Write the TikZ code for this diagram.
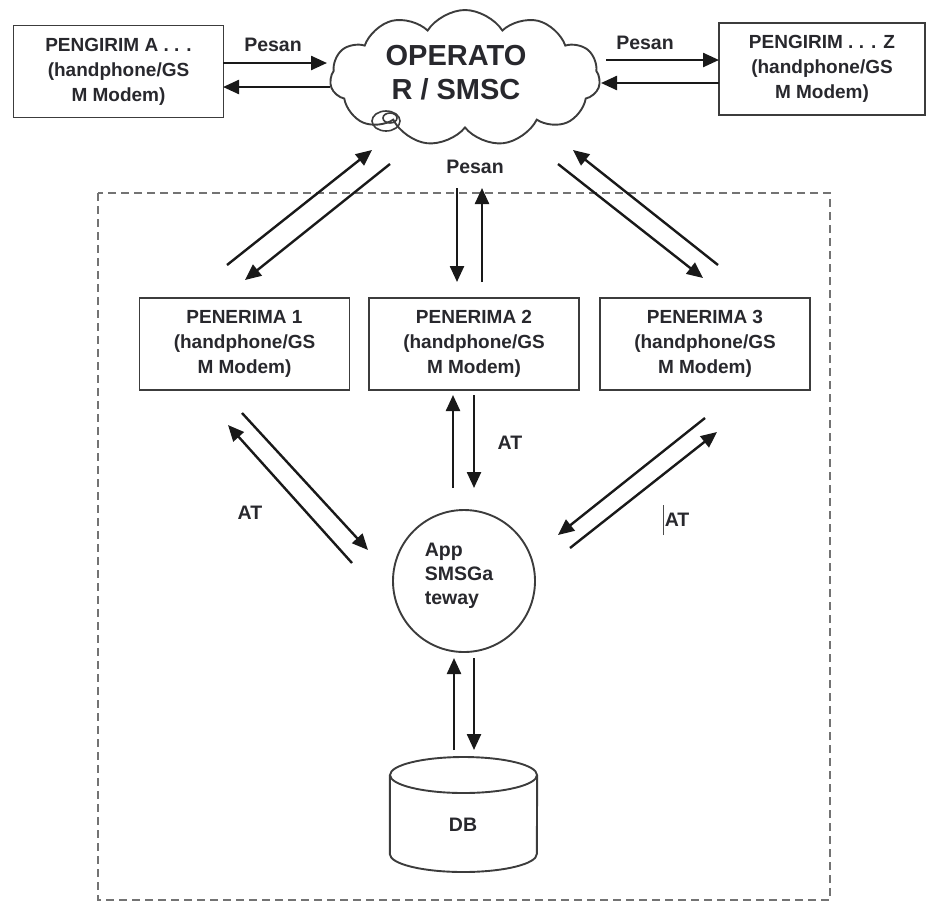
\documentclass[tikz,border=0pt]{standalone}
\usepackage{fontspec}
\setmainfont{Liberation Sans}
\usetikzlibrary{positioning,arrows.meta,shapes.symbols,shapes.geometric}
\definecolor{InkGray}{RGB}{40,40,45}
\definecolor{EdgeGray}{RGB}{60,60,60}
\tikzset{
  box/.style={draw=EdgeGray,line width=1.9pt,minimum width=210pt,minimum height=92pt,
    inner sep=0pt,align=center,text=InkGray,font=\bfseries\fontsize{19}{25}\selectfont},
  lbl/.style={inner sep=0pt,text=InkGray,font=\bfseries\fontsize{19.5}{24}\selectfont},
  arr/.style={draw=black!90,line width=2.4pt,-{Triangle[length=16pt,width=14pt]}},
  frame/.style={draw=black!55,line width=1.4pt,dash pattern=on 8pt off 5pt},
}

\begin{document}
\begin{tikzpicture}[x=1pt,y=-1pt]
  \useasboundingbox (0,0) rectangle (928,906);
  \draw[frame] (98,193) rectangle (830,900);
  % operator cloud
  \node[cloud,draw=EdgeGray,line width=1.9pt,cloud puffs=11,cloud puff arc=115,aspect=2,
    minimum width=270pt,minimum height=136pt,inner sep=0pt] (smsc) at (465,78) {};
  \node[inner sep=0pt,align=center,text=InkGray,font=\bfseries\fontsize{29}{34}\selectfont]
    (smscText) at (456,73) {OPERATO\\R / SMSC};
  \draw[EdgeGray,line width=1.6pt] (386,121) ellipse (14pt and 10pt);
  \draw[EdgeGray,line width=1.6pt] (390,118) ellipse (7pt and 5pt);
  % senders
  \node[box] (sendA) at (118.5,71.5) {PENGIRIM A . . .\\(handphone/GS\\M Modem)};
  \node[box,minimum width=206pt] (sendZ) at (822,69) {PENGIRIM . . . Z\\(handphone/GS\\M Modem)};
  % receivers
  \node[box] (recv1) at (244.5,344) {PENERIMA 1\\(handphone/GS\\M Modem)};
  \node[box] (recv2) at (474,344) {PENERIMA 2\\(handphone/GS\\M Modem)};
  \node[box] (recv3) at (705,344) {PENERIMA 3\\(handphone/GS\\M Modem)};
  % gateway and database
  \node[circle,draw=EdgeGray,line width=1.9pt,minimum size=142pt,inner sep=0pt] (app) at (464,581) {};
  \node[lbl,align=left] (appText) at (459,576) {App\\SMSGa\\teway};
  \node[minimum width=147pt,minimum height=115pt,inner sep=0pt] (db) at (463.5,814.5) {};
  \draw[EdgeGray,line width=1.9pt] (463.5,775) ellipse [x radius=73.5pt,y radius=18pt];
  \draw[EdgeGray,line width=1.9pt] (db.west |- 0,775) -- (db.west |- 0,854)
    arc[start angle=180,end angle=360,x radius=73.5pt,y radius=18pt] -- (db.east |- 0,775);
  \node[lbl] (dbText) at (463,825) {DB};
  % labels
  \node[lbl] (msgA) at (273,45) {Pesan};
  \node[lbl] (msgZ) at (645,43) {Pesan};
  \node[lbl] (msgR) at (475,167) {Pesan};
  \node[lbl] (at1) at (250,513) {AT};
  \node[lbl] (at2) at (510,443) {AT};
  \node[lbl] (at3) at (676,520) {\textcolor{black!70}{\rule[-9pt]{1.2pt}{30pt}}\kern1pt AT};
  % arrow ends
  \foreach \n/\x/\y in {aOut/223/63,aIn/327/63,cToA/330/87,aBack/223/87,
      cOutZ/606/60,zIn/719/60,zOut/719/83,zBack/601/83,
      r1Up/227/265,c1In/372/150,c1Out/390/164,r1In/245/280,
      c2Out/457/188,r2In/457/282,r2Out/482/282,c2In/482/188,
      r3Up/718/265,c3In/573/150,c3Out/558/164,r3In/703/278,
      g1Out/352/563,r1Hd/228/425,r1Dn/242/413,g1In/368/550,
      g2Out/453/488,r2Hd/453/395,r2Dn/474/395,g2In/474/488,
      r3Dn/705/418,g3In/558/535,g3Out/570/548,r3Hd/717/432,
      dbOut/454/750,gDbIn/454/658,gDbOut/474/658,dbIn/474/750}
    \coordinate (\n) at (\x,\y);
  \foreach \s/\t in {aOut/aIn,cToA/aBack,cOutZ/zIn,zOut/zBack,
      r1Up/c1In,c1Out/r1In,c2Out/r2In,r2Out/c2In,r3Up/c3In,c3Out/r3In,
      g1Out/r1Hd,r1Dn/g1In,g2Out/r2Hd,r2Dn/g2In,r3Dn/g3In,g3Out/r3Hd,
      dbOut/gDbIn,gDbOut/dbIn}
    \draw[arr] (\s) -- (\t);
\end{tikzpicture}
\end{document}
